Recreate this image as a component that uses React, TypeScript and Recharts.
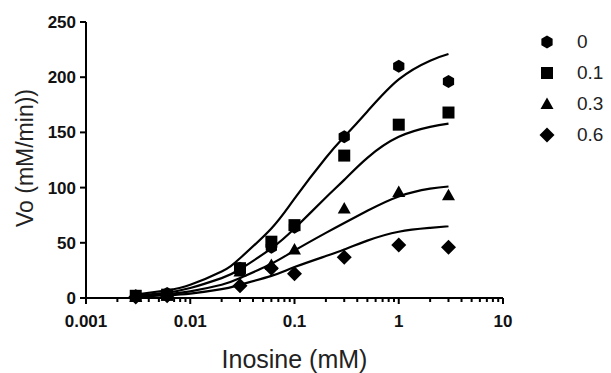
import { ComposedChart, Label, Legend, Line, Scatter, XAxis, YAxis } from "recharts";

const FONT = "'Liberation Sans', Arial, sans-serif";

// inhibitor concentrations (legend)
const seriesNames = ["0", "0.1", "0.3", "0.6"];

// measured points, Inosine (mM) vs Vo
const pointX = [0.003, 0.006, 0.03, 0.06, 0.1, 0.3, 1, 3];
const vo0 = [2, 4, 27, 46, 64, 146, 210, 196];
const vo01 = [2, 3, 27, 51, 66, 129, 157, 168];
const vo03 = [1, 2, 24, 30, 44, 81, 96, 93];
const vo06 = [1, 2, 11, 27, 22, 37, 48, 46];

// fitted curves
const fitX = [0.003, 0.006, 0.01, 0.02, 0.03, 0.06, 0.1, 0.2, 0.3, 0.5, 1, 2, 3];
const fit0 = [3, 7, 12, 24, 36, 63, 90, 127, 146, 169, 198, 215, 221];
const fit01 = [2, 5, 9, 18, 26, 45, 63, 91, 107, 127, 146, 155, 158];
const fit03 = [1.5, 3.5, 6, 12, 18, 31, 43, 59, 68, 79, 92, 99, 101];
const fit06 = [1, 2.5, 4, 8, 12, 20, 28, 38, 44, 52, 60, 63.5, 65];

const majorTicks = [0.001, 0.01, 0.1, 1, 10];
const majorLabels = ["0.001", "0.01", "0.1", "1", "10"];
const minorTicks = [
  0.002, 0.003, 0.004, 0.005, 0.006, 0.007, 0.008, 0.009,
  0.02, 0.03, 0.04, 0.05, 0.06, 0.07, 0.08, 0.09,
  0.2, 0.3, 0.4, 0.5, 0.6, 0.7, 0.8, 0.9,
  2, 3, 4, 5, 6, 7, 8, 9,
];
const yTicks = [0, 50, 100, 150, 200, 250];

const toPoints = (xs: number[], ys: number[]) => xs.map((x, i) => ({ x, y: ys[i] }));
const pointSets = [vo0, vo01, vo03, vo06].map((ys) => toPoints(pointX, ys));
const fitSets = [fit0, fit01, fit03, fit06].map((ys) => toPoints(fitX, ys));

function marker(kind: number, cx: number, cy: number) {
  if (kind === 0) {
    const r = 6.5;
    const pts = [-90, -30, 30, 90, 150, 210]
      .map((a) => `${cx + r * Math.cos((a * Math.PI) / 180)},${cy + r * Math.sin((a * Math.PI) / 180)}`)
      .join(" ");
    return <polygon points={pts} fill="#000" />;
  }
  if (kind === 1) return <rect x={cx - 6} y={cy - 6} width={12} height={12} fill="#000" />;
  if (kind === 2)
    return <polygon points={`${cx},${cy - 6.5} ${cx + 6.5},${cy + 5} ${cx - 6.5},${cy + 5}`} fill="#000" />;
  return <polygon points={`${cx},${cy - 7.5} ${cx + 7.5},${cy} ${cx},${cy + 7.5} ${cx - 7.5},${cy}`} fill="#000" />;
}

function XTick(props: any) {
  const { x, y, payload } = props;
  const idx = majorTicks.indexOf(payload.value);
  const major = idx >= 0;
  return (
    <g>
      <line x1={x} x2={x} y1={y} y2={y + (major ? 6 : 4)} stroke="#000" strokeWidth={2} />
      {major && (
        <text x={x} y={y + 29} textAnchor="middle" fontFamily={FONT} fontSize={17} fontWeight={700} fill="#111">
          {majorLabels[idx]}
        </text>
      )}
    </g>
  );
}

function LegendBox() {
  return (
    <div style={{ fontFamily: FONT, fontSize: 19, color: "#222" }}>
      {seriesNames.map((n, i) => (
        <div key={n} style={{ display: "flex", alignItems: "center", height: 31 }}>
          <svg width={16} height={16}>{marker(i, 8, 8)}</svg>
          <span style={{ marginLeft: 22 }}>{n}</span>
        </div>
      ))}
    </div>
  );
}

export default function App() {
  return (
    <div style={{ width: 603, height: 365, position: "relative" }}>
      <ComposedChart width={603} height={365} margin={{ top: 14, right: 108, bottom: 0, left: 0 }}>
        <XAxis
          type="number"
          dataKey="x"
          scale="log"
          domain={[0.001, 10]}
          allowDataOverflow
          ticks={[...majorTicks, ...minorTicks]}
          interval={0}
          tickSize={0}
          tickMargin={0}
          tickLine={false}
          tick={<XTick />}
          height={75}
          axisLine={{ stroke: "#000", strokeWidth: 2 }}
        >
          <Label
            content={(p: any) => {
              const vb = p.viewBox;
              return (
                <text x={vb.x + vb.width / 2} y={360} textAnchor="middle" fontFamily={FONT} fontSize={25} fill="#222">
                  Inosine (mM)
                </text>
              );
            }}
          />
        </XAxis>
        <YAxis
          type="number"
          domain={[0, 250]}
          ticks={yTicks}
          width={78}
          tickSize={6}
          tickMargin={4}
          tick={{ fontSize: 17, fontWeight: 700, fill: "#111", fontFamily: FONT }}
          tickLine={{ stroke: "#000", strokeWidth: 2 }}
          axisLine={{ stroke: "#000", strokeWidth: 2 }}
        >
          <Label
            content={(p: any) => {
              const vb = p.viewBox;
              const cx = vb.x + 17;
              const cy = vb.y + vb.height / 2 - 2;
              return (
                <text
                  x={cx}
                  y={cy}
                  transform={`rotate(-90 ${cx} ${cy})`}
                  textAnchor="middle"
                  dominantBaseline="central"
                  fontFamily={FONT}
                  fontSize={23}
                  fill="#222"
                >
                  Vo (mM/min))
                </text>
              );
            }}
          />
        </YAxis>
        <Legend
          layout="vertical"
          align="center"
          verticalAlign="middle"
          content={<LegendBox />}
          wrapperStyle={{ left: 531, top: 18, width: 70 }}
        />
        {fitSets.map((d, i) => (
          <Line
            key={`fit-${i}`}
            data={d}
            dataKey="y"
            type="natural"
            stroke="#000"
            strokeWidth={2.2}
            dot={false}
            activeDot={false}
            legendType="none"
            isAnimationActive={false}
          />
        ))}
        {pointSets.map((d, i) => (
          <Scatter
            key={`pts-${i}`}
            name={seriesNames[i]}
            data={d}
            dataKey="y"
            isAnimationActive={false}
            shape={(p: any) => marker(i, p.cx, p.cy)}
          />
        ))}
      </ComposedChart>
    </div>
  );
}
